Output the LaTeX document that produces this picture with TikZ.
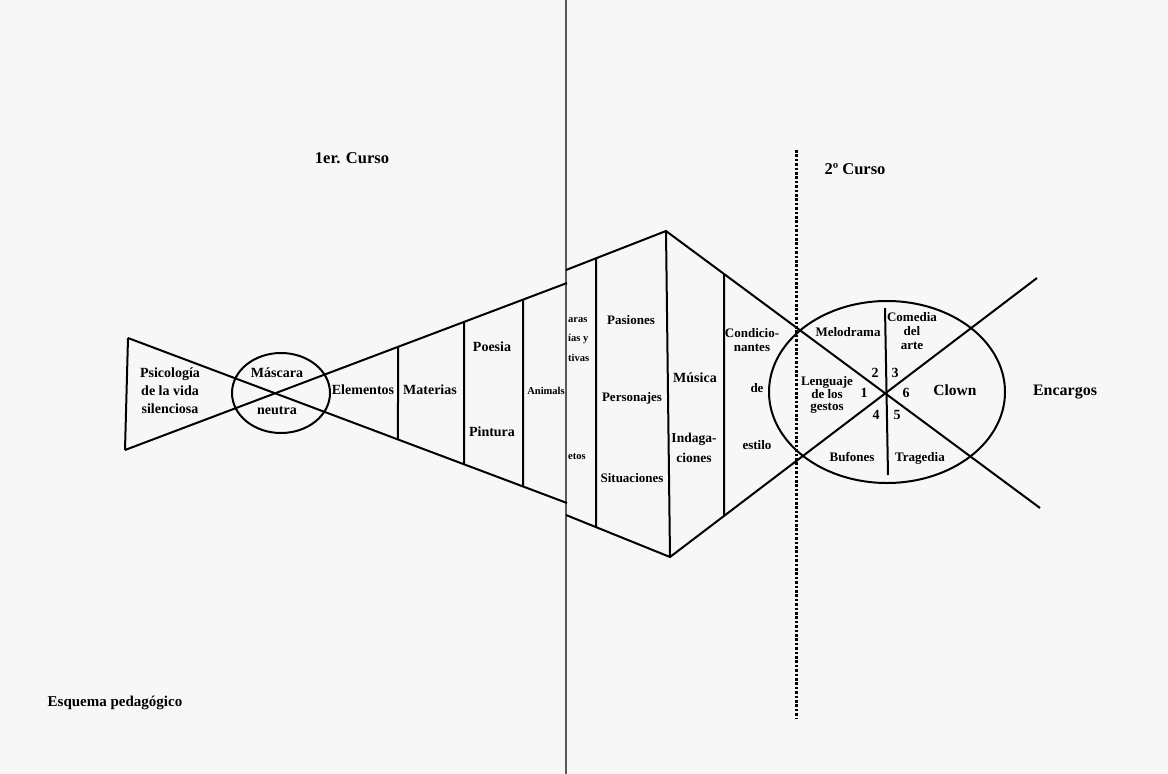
\documentclass[tikz,border=0pt]{standalone}
\usepackage{fontspec}
\setmainfont{Liberation Serif}
\usetikzlibrary{calc}
\tikzset{
  trazo/.style={line width=2pt, draw=black, line join=miter},
  lomo/.style={line width=2.8pt, draw=black!65},
  punteado/.style={line width=3pt, draw=black, dash pattern=on 2.6pt off 1.8pt},
  lbl/.style={font=\bfseries\fontsize{13}{15}\selectfont, align=center, inner sep=0pt},
  lblizq/.style={lbl, font=\bfseries\fontsize{14}{16}\selectfont},
  lblsm/.style={lbl, font=\bfseries\fontsize{10.5}{13}\selectfont},
  num/.style={font=\bfseries\fontsize{14}{15}\selectfont, inner sep=0pt},
  ttl/.style={font=\bfseries\fontsize{16.5}{19}\selectfont, inner sep=0pt},
}
\begin{document}
\begin{tikzpicture}[x=1pt, y=-1pt]
  \fill[black!3] (0,0) rectangle (1168,774);
  \useasboundingbox (0,0) rectangle (1168,774);
  % book gutter
  \draw[lomo] (566,0) -- (566,774);

  % first course: left page
  \coordinate (TL) at (128,338);
  \coordinate (BL) at (125,450);
  \coordinate (GU) at (567,283);
  \coordinate (GL) at (567,503);
  \draw[trazo] (TL) -- (BL);
  \draw[trazo] (BL) -- (GU);
  \draw[trazo] (TL) -- (GL);
  \draw[trazo] (281,393) ellipse [x radius=49, y radius=40];
  \foreach \vx in {398,464,523}
    \draw[trazo] ($(BL)!{(\vx-125)/442}!(GU)$) -- ($(TL)!{(\vx-128)/439}!(GL)$);

  % second course: right page
  \coordinate (RU) at (566,270);
  \coordinate (RL) at (566,515);
  \coordinate (AT) at (666,231);
  \coordinate (AB) at (670,557);
  \coordinate (EU) at (1037,278);
  \coordinate (EL) at (1040,508);
  \draw[trazo] (RU) -- (AT) -- (EL);
  \draw[trazo] (RL) -- (AB) -- (EU);
  \draw[trazo] (AT) -- (AB);
  \draw[trazo] ($(RU)!0.3!(AT)$) -- ($(RL)!{30/104}!(AB)$);
  \draw[trazo] ($(AT)!{58/374}!(EL)$) -- ($(AB)!{54/367}!(EU)$);
  \draw[trazo] (887,392) ellipse [x radius=118, y radius=91];
  \draw[trazo] (885,308) -- (888,475);
  \draw[punteado] (796,150) -- (796,718);

  % labels, left page
  \node[lblizq, font=\bfseries\fontsize{14}{18}\selectfont] (psic) at (170,391) {Psicología\\de la vida\\silenciosa};
  \node[lblizq] (masc) at (277,373) {Máscara};
  \node[lblizq] (neut) at (277,411) {neutra};
  \node[lblizq] (elem) at (363,390) {Elementos};
  \node[lblizq] (mate) at (430,390) {Materias};
  \node[lblizq] (poes) at (492,347) {Poesia};
  \node[lblizq] (pint) at (492,432) {Pintura};
  \node[lblsm] (anim) at (546,391) {Animals};

  % labels, right page
  \node[lblsm, anchor=west] (fra1) at (568,320) {aras};
  \node[lblsm, anchor=west] (fra2) at (568,339) {ías y};
  \node[lblsm, anchor=west] (fra3) at (568,358) {tivas};
  \node[lblsm, anchor=west] (fra4) at (568,457) {etos};
  \node[lbl] (pasi) at (631,320) {Pasiones};
  \node[lbl] (pers) at (632,398) {Personajes};
  \node[lbl] (situ) at (632,478) {Situaciones};
  \node[lbl, font=\bfseries\fontsize{14}{15}\selectfont] (musi) at (695,378) {Música};
  \node[lbl, font=\bfseries\fontsize{13.5}{20}\selectfont] (inda) at (694,448) {Indaga-\\ciones};
  \node[lbl, font=\bfseries\fontsize{13}{14}\selectfont] (cond) at (752,340) {Condicio-\\nantes};
  \node[lbl] (de) at (757,388) {de};
  \node[lbl] (esti) at (757,445) {estilo};

  % labels in the circle
  \node[lbl] (melo) at (848,332) {Melodrama};
  \node[lbl, font=\bfseries\fontsize{13}{14}\selectfont] (come) at (912,331) {Comedia\\del\\arte};
  \node[lbl, font=\bfseries\fontsize{13}{12.5}\selectfont] (leng) at (827,395) {Lenguaje\\de los\\gestos};
  \node[lbl, font=\bfseries\fontsize{15.5}{16}\selectfont] (clow) at (955,390) {Clown};
  \node[lbl] (bufo) at (852,457) {Bufones};
  \node[lbl] (trag) at (920,458) {Tragedia};
  \node[num] (n2) at (875,373) {2};
  \node[num] (n3) at (895,373) {3};
  \node[num] (n1) at (864,393) {1};
  \node[num] (n6) at (906,393) {6};
  \node[num] (n4) at (876,415) {4};
  \node[num] (n5) at (897,415) {5};
  \node[ttl, font=\bfseries\fontsize{16}{18}\selectfont] (enca) at (1065,392) {Encargos};

  % titles
  \node[ttl] (cur1) at (352,158) {1er. Curso};
  \node[ttl] (cur2) at (855,169) {2º Curso};
  \node[ttl, font=\bfseries\fontsize{15}{18}\selectfont] (esqu) at (115,703) {Esquema pedagógico};
\end{tikzpicture}
\end{document}
